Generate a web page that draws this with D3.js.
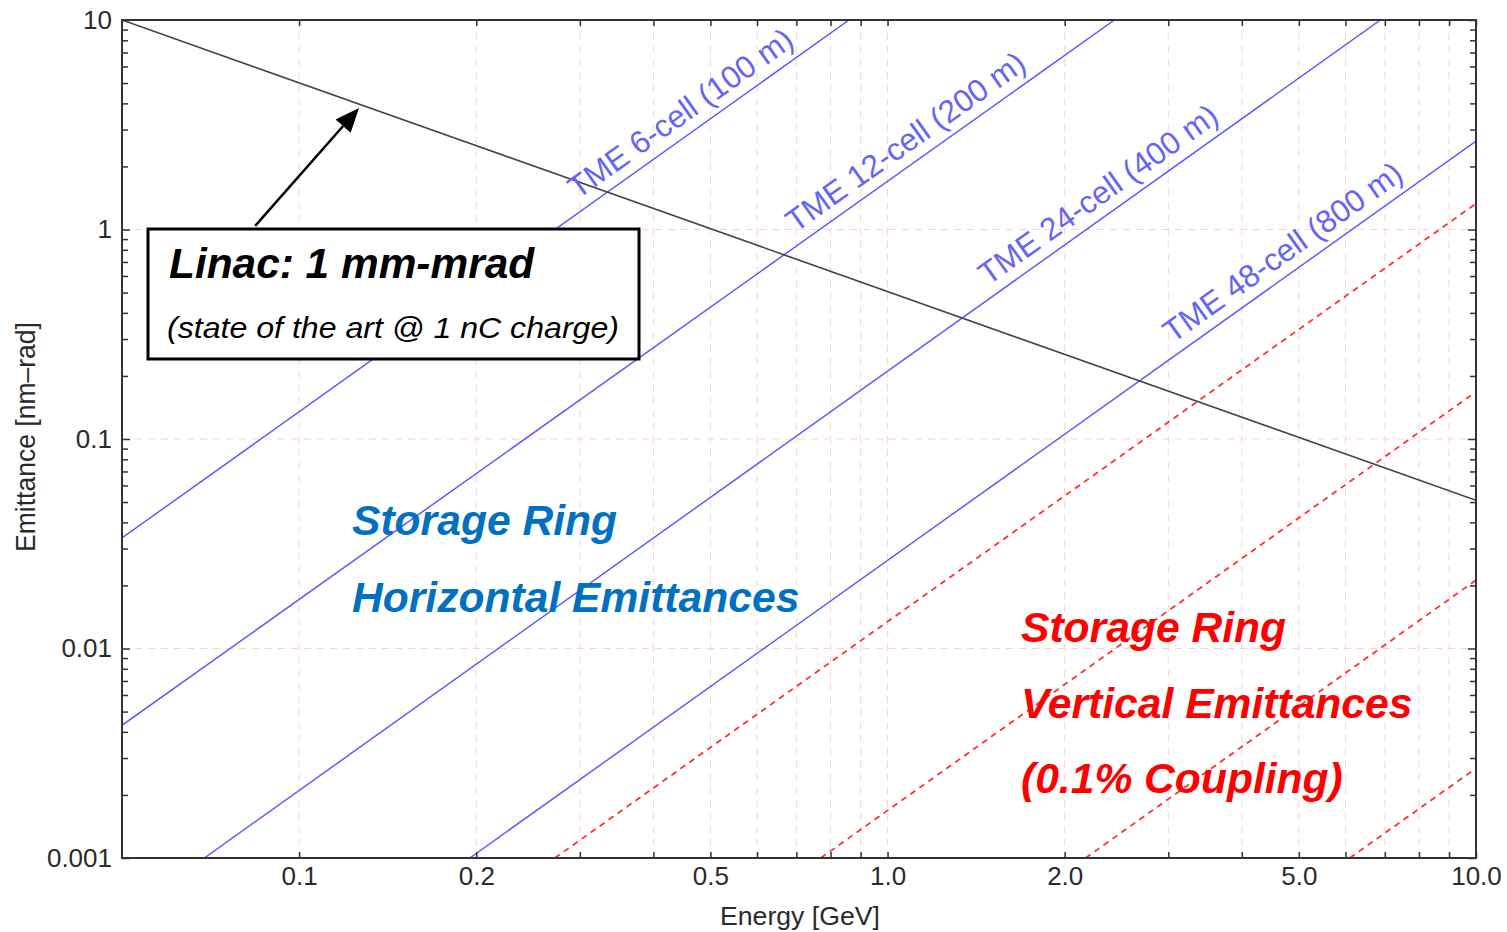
<!DOCTYPE html>
<html><head><meta charset="utf-8">
<script src="https://cdn.jsdelivr.net/npm/d3@7"></script>
<style>
body{margin:0;background:#fff}
svg{display:block}
text{font-family:"Liberation Sans",Arial,Helvetica,sans-serif}
</style>
</head><body>
<svg id="chart" width="1507" height="932"></svg>
<script>
// ---------------- data ----------------
const energyDomain = [0.05, 10];
const emitDomain = [0.001, 10];
const xTickValues = [0.1,0.2,0.3,0.4,0.5,0.6,0.7,0.8,0.9,1,2,3,4,5,6,7,8,9,10];
const xTickLabels = ["0.1","0.2","","","0.5","","","","","1.0","2.0","","","5.0","","","","","10.0"];
const yMajorTicks = [0.001, 0.01, 0.1, 1, 10];
const yTickLabels = ["0.001","0.01","0.1","1","10"];
const yMinorMultipliers = [2,3,4,5,6,7,8,9];
const xGridValues = [0.1,0.2,0.3,0.4,0.5,0.6,0.7,0.8,0.9,1,2,3,4,5,6,7,8,9];
const yGridValues = [0.01, 0.1, 1];

// Linac: 1 mm-mrad normalized
const linacEnergy = [0.05, 10];
const linacEmit = [10, 0.051];

// TME lattices (horizontal emittance)
const tmeNames = ["TME 6-cell (100 m)","TME 12-cell (200 m)","TME 24-cell (400 m)","TME 48-cell (800 m)"];
const tmeEnergy = [[0.05, 0.86],[0.05, 2.43],[0.069, 6.88],[0.195, 10]];
const tmeEmit   = [[0.0337, 10],[0.0043, 10],[0.001, 10],[0.001, 2.64]];
const tmeLabelEnergy = [0.305, 0.715, 1.52, 3.13];

// Vertical emittances (0.1% coupling)
const vertEnergy = [[0.272, 10],[0.77, 10],[2.17, 10],[6.1, 10]];
const vertEmit   = [[0.001, 1.33],[0.001, 0.168],[0.001, 0.0212],[0.001, 0.00268]];

// ---------------- layout ----------------
const svg = d3.select("#chart");
const L = 122, R = 1476, T = 20, B = 858;
const x = d3.scaleLog().domain(energyDomain).range([L, R]);
const y = d3.scaleLog().domain(emitDomain).range([B, T]);

const yMinorTicks = [];
yMajorTicks.slice(0, -1).forEach(d => yMinorMultipliers.forEach(m => yMinorTicks.push(+(d*m).toPrecision(3))));

svg.append("defs").append("clipPath").attr("id","plotclip")
  .append("rect").attr("x",L).attr("y",T).attr("width",R-L).attr("height",B-T);

// grid
const grid = svg.append("g");
grid.selectAll("line.vx").data(xGridValues).join("line")
  .attr("x1",d=>x(d)).attr("x2",d=>x(d)).attr("y1",T).attr("y2",B)
  .attr("stroke","#ffcfcf").attr("stroke-width",1).attr("stroke-dasharray","7,6");
grid.selectAll("line.hy").data(yGridValues).join("line")
  .attr("x1",L).attr("x2",R).attr("y1",d=>y(d)).attr("y2",d=>y(d))
  .attr("stroke","#ffcfcf").attr("stroke-width",1).attr("stroke-dasharray","7,6");

const plot = svg.append("g").attr("clip-path","url(#plotclip)");
const line = d3.line().x(d=>x(d[0])).y(d=>y(d[1]));

// vertical emittance lines (red dashed)
vertEnergy.forEach((e,i)=>{
  plot.append("path").attr("d", line(e.map((v,j)=>[v, vertEmit[i][j]])))
    .attr("fill","none").attr("stroke","#ff3030").attr("stroke-width",1.8).attr("stroke-dasharray","6,5");
});
// TME lines
tmeEnergy.forEach((e,i)=>{
  plot.append("path").attr("d", line(e.map((v,j)=>[v, tmeEmit[i][j]])))
    .attr("fill","none").attr("stroke","#5c5cff").attr("stroke-width",1.5);
});
// linac line
plot.append("path").attr("d", line(linacEnergy.map((v,j)=>[v, linacEmit[j]])))
  .attr("fill","none").attr("stroke","#444").attr("stroke-width",1.6);

// TME labels along lines
tmeEnergy.forEach((e,i)=>{
  const x0=x(e[0]), y0=y(tmeEmit[i][0]), x1=x(e[1]), y1=y(tmeEmit[i][1]);
  const a = Math.atan2(y1-y0, x1-x0);
  const px = x(tmeLabelEnergy[i]);
  const py = y0 + (px-x0)*(y1-y0)/(x1-x0);
  const off = 11;
  const tx = px + Math.sin(a)*off, ty = py - Math.cos(a)*off;
  svg.append("text").attr("transform",`translate(${tx},${ty}) rotate(${a*180/Math.PI})`)
    .attr("font-size",31.5).attr("fill","#6464f5").text(tmeNames[i]);
});

// axes
const tickCol = "#333";
const xb = svg.append("g").attr("transform",`translate(0,${B})`)
  .call(d3.axisBottom(x).tickValues(xTickValues).tickSize(-6).tickPadding(9)
    .tickFormat((d,i)=>xTickLabels[i]));
const xt = svg.append("g").attr("transform",`translate(0,${T})`)
  .call(d3.axisTop(x).tickValues(xTickValues).tickSize(-6).tickFormat(""));
const yl = svg.append("g").attr("transform",`translate(${L},0)`)
  .call(d3.axisLeft(y).tickValues(yMajorTicks).tickSize(-8).tickPadding(10)
    .tickFormat((d,i)=>yTickLabels[i]));
const ylm = svg.append("g").attr("transform",`translate(${L},0)`)
  .call(d3.axisLeft(y).tickValues(yMinorTicks).tickSize(-6).tickFormat(""));
const yr = svg.append("g").attr("transform",`translate(${R},0)`)
  .call(d3.axisRight(y).tickValues(yMajorTicks).tickSize(-8).tickFormat(""));
const yrm = svg.append("g").attr("transform",`translate(${R},0)`)
  .call(d3.axisRight(y).tickValues(yMinorTicks).tickSize(-6).tickFormat(""));
[xb,xt,yl,ylm,yr,yrm].forEach(g=>{
  g.select(".domain").remove();
  g.selectAll(".tick line").attr("stroke",tickCol).attr("stroke-width",1.5);
  g.selectAll(".tick text").attr("font-size",26).attr("fill","#2a2a2a")
    .attr("font-family",'"Liberation Sans",Arial,sans-serif');
});
// frame
svg.append("rect").attr("x",L).attr("y",T).attr("width",R-L).attr("height",B-T)
  .attr("fill","none").attr("stroke","#333").attr("stroke-width",2);

// axis titles
svg.append("text").attr("x",(L+R)/2+1).attr("y",925).attr("text-anchor","middle")
  .attr("font-size",25).attr("fill","#2a2a2a").attr("textLength",160).attr("lengthAdjust","spacingAndGlyphs")
  .text("Energy [GeV]");
svg.append("text").attr("transform",`translate(35,437) rotate(-90)`).attr("text-anchor","middle")
  .attr("font-size",27).attr("fill","#2a2a2a").attr("textLength",230).attr("lengthAdjust","spacingAndGlyphs")
  .text("Emittance [nm\u2013rad]");

// linac annotation box
svg.append("rect").attr("x",148).attr("y",229).attr("width",491).attr("height",130)
  .attr("fill","#fff").attr("stroke","#000").attr("stroke-width",3);
svg.append("text").attr("x",169).attr("y",278).attr("font-size",42.4).attr("font-weight","bold")
  .attr("font-style","italic").attr("fill","#000").text("Linac: 1 mm-mrad");
svg.append("text").attr("x",167).attr("y",338).attr("font-size",30).attr("font-style","italic")
  .attr("fill","#000").attr("textLength",452).attr("lengthAdjust","spacingAndGlyphs")
  .text("(state of the art @ 1 nC charge)");

// arrow
const arrowTail = [0.0842, 1.04], arrowTip = [0.1264, 3.80];
const ax0 = x(arrowTail[0]), ay0 = y(arrowTail[1]), ax1 = x(arrowTip[0]), ay1 = y(arrowTip[1]);
const ang = Math.atan2(ay1-ay0, ax1-ax0);
const hl = 24, hw = 10;
const bx = ax1 - Math.cos(ang)*hl, by = ay1 - Math.sin(ang)*hl;
svg.append("line").attr("x1",ax0).attr("y1",ay0).attr("x2",bx).attr("y2",by)
  .attr("stroke","#000").attr("stroke-width",2.5);
svg.append("path").attr("d",`M${ax1},${ay1}L${bx - Math.sin(ang)*hw},${by + Math.cos(ang)*hw}L${bx + Math.sin(ang)*hw},${by - Math.cos(ang)*hw}Z`)
  .attr("fill","#000");

// region labels
const blue = svg.append("g").attr("font-size",42.6).attr("font-weight","bold").attr("font-style","italic").attr("fill","#0070c0");
blue.append("text").attr("x",352).attr("y",535).text("Storage Ring");
blue.append("text").attr("x",352).attr("y",612).text("Horizontal Emittances");
const red = svg.append("g").attr("font-size",42.6).attr("font-weight","bold").attr("font-style","italic").attr("fill","#ff0000");
red.append("text").attr("x",1021).attr("y",642).text("Storage Ring");
red.append("text").attr("x",1021).attr("y",718).text("Vertical Emittances");
red.append("text").attr("x",1021).attr("y",793).text("(0.1% Coupling)");
</script>
</body></html>
